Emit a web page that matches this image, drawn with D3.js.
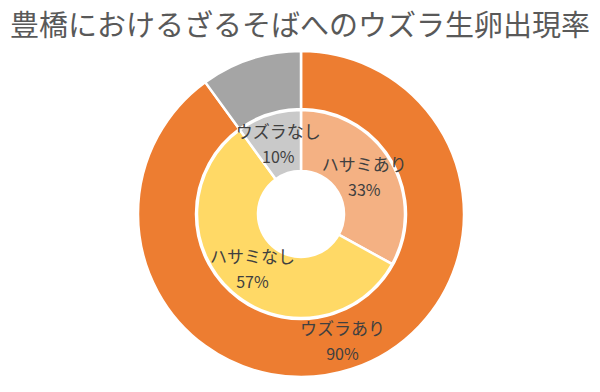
<!DOCTYPE html>
<html>
<head>
<meta charset="utf-8">
<script src="https://cdn.jsdelivr.net/npm/d3@7"></script>
<style>
  html, body { margin: 0; padding: 0; background: #fff; }
  svg { display: block; font-family: "Noto Sans CJK JP", "Noto Sans", sans-serif; }
</style>
</head>
<body>
<div id="chart"></div>
<script>
// ── Data ───────────────────────────────────────────────────────────────────
const TITLE = "豊橋におけるざるそばへのウズラ生卵出現率";
const outerLabels = ["ウズラあり", "ウズラなし"];
const outerValues = [90, 10];
const outerShowLabel = [true, false];
const innerLabels = ["ハサミあり", "ハサミなし", "ウズラなし"];
const innerValues = [33, 57, 10];

const outerColors = ["#ED7D31", "#A5A5A5"];
const innerColors = ["#F4B183", "#FFD966", "#C9C9C9"];

// ── Layout ─────────────────────────────────────────────────────────────────
const W = 600, H = 392;
const CX = 301, CY = 214;
const R_OUT = 163, R_MID_OUT = 105, R_MID_IN = 104, R_HOLE = 43;

const svg = d3.select("#chart").append("svg").attr("width", W).attr("height", H);

svg.append("text")
  .attr("x", W / 2).attr("y", 36)
  .attr("text-anchor", "middle")
  .attr("fill", "#595959")
  .attr("font-size", 29)
  .text(TITLE);

const g = svg.append("g").attr("transform", `translate(${CX},${CY})`);
const pie = d3.pie().sort(null).value(d => d);

function ring(values, colors, labels, r0, r1, show) {
  const arc = d3.arc().innerRadius(r0).outerRadius(r1);
  const arcs = pie(values);
  g.append("g").selectAll("path")
    .data(arcs)
    .enter()
    .append("path")
    .attr("d", arc)
    .attr("fill", (d, i) => colors[i])
    .attr("stroke", "#fff")
    .attr("stroke-width", 2.5);

  const lab = g.append("g").selectAll("g")
    .data(arcs.filter((d, i) => show[i]))
    .enter()
    .append("g")
    .attr("transform", d => `translate(${arc.centroid(d)})`);
  lab.append("text")
    .attr("text-anchor", "middle").attr("y", -6)
    .attr("font-size", 17).attr("fill", "#404040")
    .text(d => labels[d.index]);
  lab.append("text")
    .attr("text-anchor", "middle").attr("y", 19)
    .attr("font-size", 16).attr("fill", "#404040")
    .text(d => d.value + "%");
}

ring(outerValues, outerColors, outerLabels, R_MID_OUT, R_OUT, outerShowLabel);
ring(innerValues, innerColors, innerLabels, R_HOLE, R_MID_IN, innerValues.map(() => true));
</script>
</body>
</html>
